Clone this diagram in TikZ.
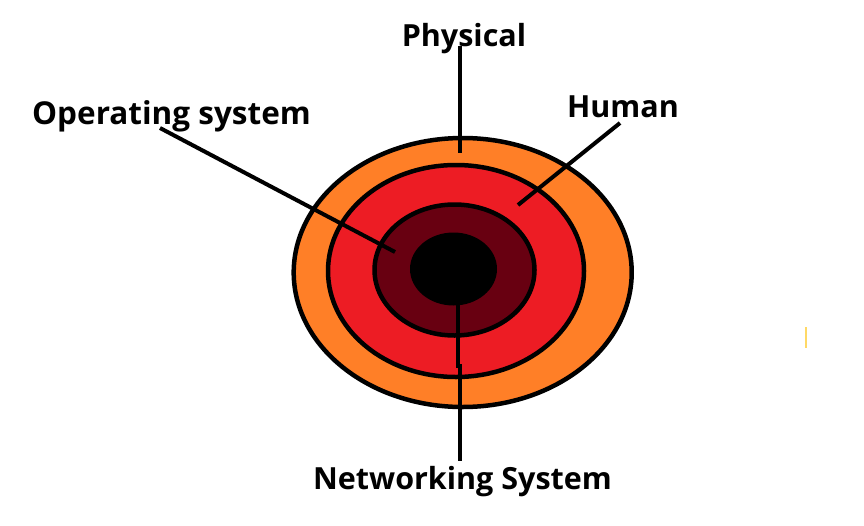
\documentclass[tikz,border=0pt]{standalone}
\usepackage{fontspec}
\setmainfont{Open Sans}
\usepackage{tikz}
\usetikzlibrary{shapes.geometric}
\definecolor{ringorange}{HTML}{FF7F27}
\definecolor{ringred}{HTML}{ED1C24}
\definecolor{ringdark}{HTML}{680011}
\definecolor{speck}{HTML}{FFD966}

\begin{document}
\begin{tikzpicture}[x=1pt, y=-1pt,
    ring/.style={ellipse, draw, line width=4.5pt, inner sep=0pt},
    lbl/.style={inner sep=0pt, anchor=base, font=\fontsize{30.5}{36}\selectfont\bfseries},
    wire/.style={line width=4pt}]
    \useasboundingbox[fill=white] (0,0) rectangle (864,525);

    % Layers, outside in
    \foreach \n/\c/\x/\y/\w/\h in {phys/ringorange/462.7/272.5/338/269,
        human/ringred/456/271/256/212,
        os/ringdark/454.5/270/160/131}
      \node[ring, fill=\c, minimum width=\w pt, minimum height=\h pt] (\n) at (\x,\y) {};
    \node[ellipse, fill=black, inner sep=0pt, minimum width=87pt, minimum height=73pt] (net) at (453.5,269) {};

    % Labels
    \node[lbl] (lPhys) at (464,46) {Physical};
    \node[lbl] (lHum) at (623,117) {Human};
    \node[lbl, font=\fontsize{31.5}{36}\selectfont\bfseries] (lOS) at (171.5,124) {Operating system};
    \node[lbl] (lNet) at (462.5,489) {Networking System};

    % Line ends inside the layers
    \coordinate (pEnd) at (460,153);
    \coordinate (hEnd) at (518,205);
    \coordinate (oEnd) at (395,252);
    \coordinate (nEnd) at (458,305);
    \coordinate (nBend) at (458,366);
    \coordinate (nLow) at (460,461);

    \draw[wire] (lPhys.base -| pEnd) -- (pEnd);
    \draw[wire] ([xshift=-3pt,yshift=-6pt]lHum.base) -- (hEnd);
    \draw[wire] ([xshift=-11.5pt,yshift=-4pt]lOS.base) -- (oEnd);
    \draw[wire] (nEnd) -- (nBend) -- ([xshift=2pt]nBend) -- (nLow);

    \draw[speck, line width=1.5pt] (806,327) -- (806,348);
\end{tikzpicture}
\end{document}
